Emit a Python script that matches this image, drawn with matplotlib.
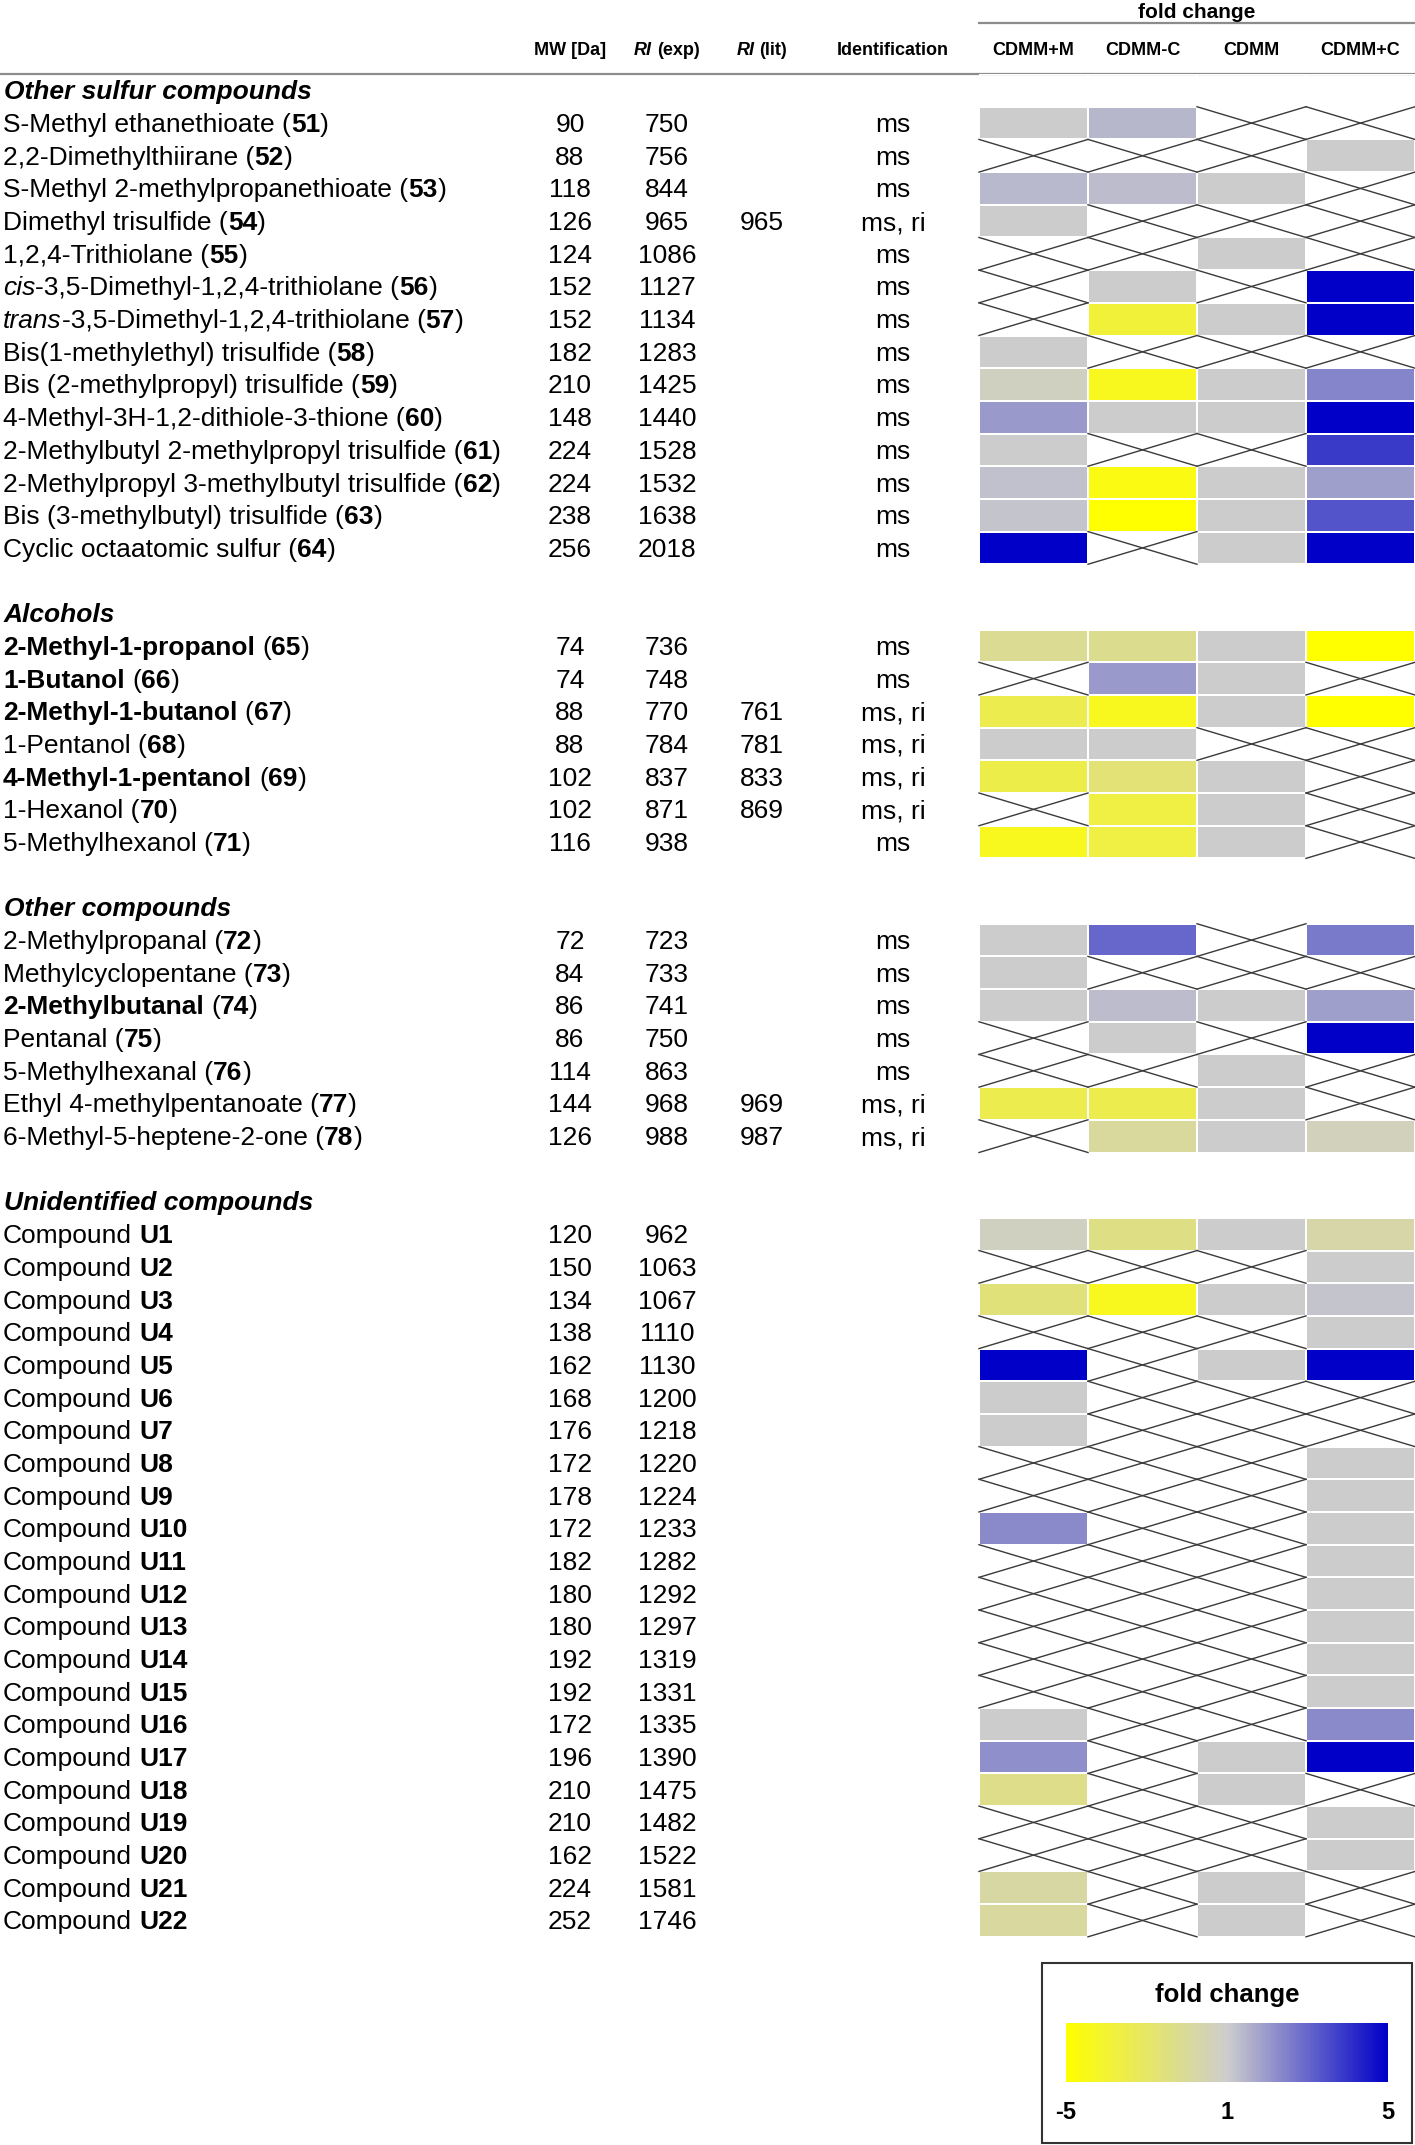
import re
import numpy as np
import matplotlib
matplotlib.use("Agg")
import matplotlib.pyplot as plt
from matplotlib.colors import LinearSegmentedColormap, TwoSlopeNorm
from matplotlib.patches import Rectangle

plt.rcParams['font.family'] = ['Liberation Sans', 'DejaVu Sans']

# ---------------- data ----------------
# markup: **bold**, _italic_
section_titles = ["Other sulfur compounds", "Alcohols", "Other compounds", "Unidentified compounds"]

sulfur_names = ["S-Methyl ethanethioate", "2,2-Dimethylthiirane", "S-Methyl 2-methylpropanethioate",
                "Dimethyl trisulfide", "1,2,4-Trithiolane", "_cis_-3,5-Dimethyl-1,2,4-trithiolane",
                "_trans_-3,5-Dimethyl-1,2,4-trithiolane", "Bis(1-methylethyl) trisulfide",
                "Bis (2-methylpropyl) trisulfide", "4-Methyl-3H-1,2-dithiole-3-thione",
                "2-Methylbutyl 2-methylpropyl trisulfide", "2-Methylpropyl 3-methylbutyl trisulfide",
                "Bis (3-methylbutyl) trisulfide", "Cyclic octaatomic sulfur"]
sulfur_ids = [51, 52, 53, 54, 55, 56, 57, 58, 59, 60, 61, 62, 63, 64]

alcohol_names = ["**2-Methyl-1-propanol**", "**1-Butanol**", "**2-Methyl-1-butanol**", "1-Pentanol",
                 "**4-Methyl-1-pentanol**", "1-Hexanol", "5-Methylhexanol"]
alcohol_ids = [65, 66, 67, 68, 69, 70, 71]

other_names = ["2-Methylpropanal", "Methylcyclopentane", "**2-Methylbutanal**", "Pentanal",
               "5-Methylhexanal", "Ethyl 4-methylpentanoate", "6-Methyl-5-heptene-2-one"]
other_ids = [72, 73, 74, 75, 76, 77, 78]

unknown_ids = ["U1", "U2", "U3", "U4", "U5", "U6", "U7", "U8", "U9", "U10", "U11",
               "U12", "U13", "U14", "U15", "U16", "U17", "U18", "U19", "U20", "U21", "U22"]

mw = [90, 88, 118, 126, 124, 152, 152, 182, 210, 148, 224, 224, 238, 256,
      74, 74, 88, 88, 102, 102, 116,
      72, 84, 86, 86, 114, 144, 126,
      120, 150, 134, 138, 162, 168, 176, 172, 178, 172, 182, 180, 180, 192, 192,
      172, 196, 210, 210, 162, 224, 252]
ri_exp = [750, 756, 844, 965, 1086, 1127, 1134, 1283, 1425, 1440, 1528, 1532, 1638, 2018,
          736, 748, 770, 784, 837, 871, 938,
          723, 733, 741, 750, 863, 968, 988,
          962, 1063, 1067, 1110, 1130, 1200, 1218, 1220, 1224, 1233, 1282, 1292, 1297, 1319, 1331,
          1335, 1390, 1475, 1482, 1522, 1581, 1746]
ri_lit = [None, None, None, 965, None, None, None, None, None, None, None, None, None, None,
          None, None, 761, 781, 833, 869, None,
          None, None, None, None, None, 969, 987] + [None] * 22
ident = ["ms", "ms", "ms", "ms, ri", "ms", "ms", "ms", "ms", "ms", "ms", "ms", "ms", "ms", "ms",
         "ms", "ms", "ms, ri", "ms, ri", "ms, ri", "ms, ri", "ms",
         "ms", "ms", "ms", "ms", "ms", "ms, ri", "ms, ri"] + [""] * 22

N = np.nan  # not detected -> crossed cell
fc_cdmm_m = [1, N, 1.4, 1, N, N, N, 1, 0.65, 2.0, 1, 1.23, 1.17, 5,
             -0.65, N, -2.7, 1, -2.8, N, -4.1,
             1, 1, 1, N, N, -2.7, N,
             0.65, N, -1.4, N, 5, 1, 1, N, N, 2.3, N, N, N, N, N,
             1, 2.2, -0.95, N, N, -0.2, -0.35]
fc_cdmm_minus_c = [1.42, N, 1.33, N, N, 1, -3.3, N, -4.1, 1, N, -4.4, -5, N,
                   -0.8, 2.0, -4.1, 1, -1.5, -3.0, -3.0,
                   2.97, N, 1.33, 1, N, -2.7, -0.4,
                   -1.1, N, -4.1, N, N, N, N, N, N, N, N, N, N, N, N,
                   N, N, N, N, N, N, N]
fc_cdmm = [N, N, 1, N, 1, N, 1, N, 1, 1, N, 1, 1, 1,
           1, 1, 1, N, 1, 1, 1,
           N, N, 1, N, 1, 1, 1,
           1, N, 1, N, 1, N, N, N, N, N, N, N, N, N, N,
           N, 1, 1, N, N, 1, 1]
fc_cdmm_plus_c = [N, 1, N, N, N, 5, 5, N, 2.4, 5, 3.85, 1.9, 3.35, 5,
                  -5, N, -5, N, N, N, N,
                  2.6, N, 1.9, 5, N, N, 0.5,
                  -0.07, 1, 1.17, 1, 5, N, N, 1, 1, 1, 1, 1, 1, 1, 1,
                  2.3, 5, N, 1, 1, N, N]

col_labels = ["CDMM+M", "CDMM-C", "CDMM", "CDMM+C"]

# ---------------- layout ----------------
W, H = 1415, 2145
Y0, DY = 90.4, 32.68
FS = 19
HFS = 13
X_MW, X_RIE, X_RIL, X_ID = 570, 667, 762, 893
HM_LEFT, HM_RIGHT = 979, 1415

fig = plt.figure(figsize=(W / 100, H / 100), dpi=100)
ax = fig.add_axes([0, 0, 1, 1])
ax.set_xlim(0, W)
ax.set_ylim(H, 0)
ax.axis('off')
renderer = fig.canvas.get_renderer()


def text_w(s, **kw):
    t = ax.text(0, 0, s, **kw)
    w = t.get_window_extent(renderer).width
    t.remove()
    return w


def advance(s, **kw):
    return text_w("x" + s + "x", **kw) - text_w("xx", **kw)


def parse(s, weight, style):
    runs = []
    for part in re.split(r'(\*\*.+?\*\*|_.+?_)', s):
        if not part:
            continue
        if part.startswith("**"):
            runs.append((part[2:-2], 'bold', style))
        elif part.startswith("_"):
            runs.append((part[1:-1], weight, 'italic'))
        else:
            runs.append((part, weight, style))
    return runs


def draw_rich(x, y, s, size, ha='left', weight='normal', style='normal'):
    runs = parse(s, weight, style)
    advs = [advance(t, fontsize=size, fontweight=w, fontstyle=st) for t, w, st in runs]
    if ha == 'center':
        x -= sum(advs) / 2
    for (t, w, st), a in zip(runs, advs):
        kw = dict(fontsize=size, fontweight=w, fontstyle=st)
        lead = t[:len(t) - len(t.lstrip())]
        off = advance(lead, **kw) if lead else 0
        if t.strip():
            ax.text(x + off, y, t.strip(), va='baseline', ha='left', **kw)
        x += a


# header
draw_rich((HM_LEFT + HM_RIGHT) / 2, 17.5, "fold change", 15, ha='center', weight='bold')
ax.plot([HM_LEFT, HM_RIGHT], [22.5, 22.5], color='#8c8c8c', lw=1.6)
draw_rich(X_MW, 55, "MW [Da]", HFS, ha='center', weight='bold')
draw_rich(X_RIE, 55, "_RI_ (exp)", HFS, ha='center', weight='bold')
draw_rich(X_RIL, 55, "_RI_ (lit)", HFS, ha='center', weight='bold')
draw_rich(X_ID, 55, "Identification", HFS, ha='center', weight='bold')
cell_w = (HM_RIGHT - HM_LEFT) / 4
for j, lab in enumerate(col_labels):
    draw_rich(HM_LEFT + cell_w * (j + 0.5), 55, lab, HFS, ha='center', weight='bold')
ax.plot([0, W], [73.5, 73.5], color='#8c8c8c', lw=1.6)

# rows
labels = ([f"{n} (**{i}**)" for n, i in zip(sulfur_names, sulfur_ids)],
          [f"{n} (**{i}**)" for n, i in zip(alcohol_names, alcohol_ids)],
          [f"{n} (**{i}**)" for n, i in zip(other_names, other_ids)],
          [f"Compound **{u}**" for u in unknown_ids])
fc = np.array([fc_cdmm_m, fc_cdmm_minus_c, fc_cdmm, fc_cdmm_plus_c], dtype=float).T

n_slots = sum(len(l) + 1 for l in labels) + len(labels) - 1
C = np.full((n_slots, 4), np.nan)
crossed = np.zeros((n_slots, 4), dtype=bool)

slot = 0
k = 0
cap = 0.34 * FS * 100 / 72
for s, (title, labs) in enumerate(zip(section_titles, labels)):
    if s > 0:
        slot += 1
    draw_rich(4, Y0 + slot * DY + cap, title, FS, weight='bold', style='italic')
    slot += 1
    for lab in labs:
        yb = Y0 + slot * DY + cap
        draw_rich(3, yb, lab, FS)
        ax.text(X_MW, yb, str(mw[k]), fontsize=FS, ha='center', va='baseline')
        ax.text(X_RIE, yb, str(ri_exp[k]), fontsize=FS, ha='center', va='baseline')
        if ri_lit[k] is not None:
            ax.text(X_RIL, yb, str(ri_lit[k]), fontsize=FS, ha='center', va='baseline')
        if ident[k]:
            ax.text(X_ID, yb, ident[k], fontsize=FS, ha='center', va='baseline')
        C[slot] = fc[k]
        crossed[slot] = np.isnan(fc[k])
        slot += 1
        k += 1

# heatmap
cmap = LinearSegmentedColormap.from_list('fc', [(0, '#ffff00'), (0.5, '#cdcdcd'), (1, '#0000c8')])
norm = TwoSlopeNorm(vmin=-5, vcenter=1, vmax=5)
top = Y0 - DY / 2
hm = fig.add_axes([HM_LEFT / W, 1 - (top + n_slots * DY) / H, (HM_RIGHT - HM_LEFT) / W, n_slots * DY / H])
mesh = hm.pcolormesh(np.arange(5) - 0.5, np.arange(n_slots + 1) - 0.5, np.ma.masked_invalid(C),
                     cmap=cmap, norm=norm, edgecolors='white', linewidth=1.2)
for i, j in zip(*np.nonzero(crossed)):
    hm.plot([j - 0.5, j + 0.5], [i - 0.5, i + 0.5], color='#3a3a3a', lw=1.0, clip_on=False)
    hm.plot([j - 0.5, j + 0.5], [i + 0.5, i - 0.5], color='#3a3a3a', lw=1.0, clip_on=False)
hm.set_xlim(-0.5, 3.5)
hm.set_ylim(n_slots - 0.5, -0.5)
hm.axis('off')

# legend box with colour bar
ax.add_patch(Rectangle((1042, 1963), 370, 180, fill=False, edgecolor='#333333', lw=1.5))
ax.text(1227, 2002, "fold change", fontsize=18.5, fontweight='bold', ha='center', va='baseline')
cax = fig.add_axes([1066 / W, 1 - 2082 / H, 322 / W, 59 / H])
cb = fig.colorbar(mesh, cax=cax, orientation='horizontal', ticks=[-5, 1, 5])
cb.outline.set_visible(False)
cb.ax.tick_params(length=0, pad=14)
cb.ax.set_xticklabels(["-5", "1", "5"], fontsize=17, fontweight='bold')

fig.savefig("out.png", dpi=100)
